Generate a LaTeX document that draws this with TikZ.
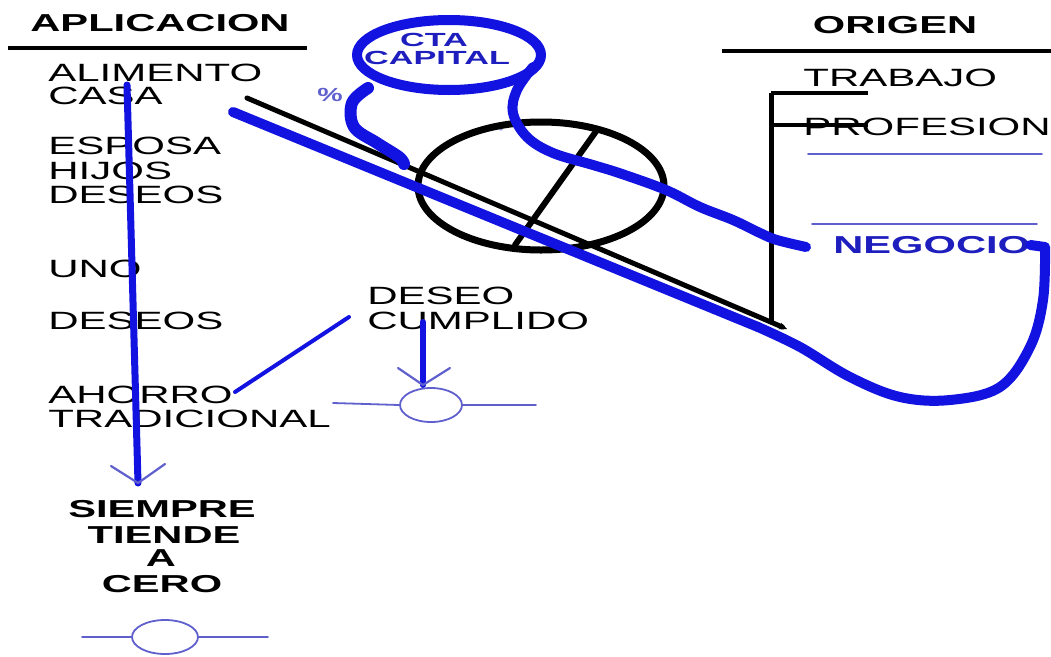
\documentclass[tikz,border=0pt]{standalone}
\usepackage{fontspec}
\setmainfont{Liberation Sans}
\usetikzlibrary{arrows.meta,calc,positioning,shapes.geometric}
\definecolor{penblue}{RGB}{18,18,225}
\definecolor{thinblue}{RGB}{95,95,205}
\definecolor{textblue}{RGB}{30,30,190}

\begin{document}
\begin{tikzpicture}[x=1pt,y=-1pt,>=Stealth,line cap=round,line join=round,
  word/.style={anchor=west,inner sep=0pt,xscale=1.68,font=\fontsize{25}{25}\selectfont},
  head/.style={inner sep=0pt,xscale=1.70,font=\fontsize{24.5}{24.5}\selectfont\bfseries},
  pen/.style={penblue,line width=10pt},
  thin/.style={thinblue,line width=1.8pt},
  ink/.style={black,line width=5pt}]
\useasboundingbox (0,0) rectangle (1051,656);
% headers
\node[head] (aplic) at (160,23) {APLICACION};
\node[head] (origen) at (895,25) {ORIGEN};
\draw[black,line width=4pt,line cap=butt] (8,48) -- (307,48);
\draw[black,line width=4pt,line cap=butt] (722,51) -- (1051,51);
% left column
\node[word] (alimento) at (48,73) {ALIMENTO};
\node[word] (casa) at (48,96) {CASA};
\node[word] (esposa) at (48,146) {ESPOSA};
\node[word] (hijos) at (48,171) {HIJOS};
\node[word] (deseos) at (48,195) {DESEOS};
\node[word] (uno) at (48,269) {UNO};
\node[word] (deseosb) at (48,321) {DESEOS};
\node[word] (ahorro) at (48,395) {AHORRO};
\node[word] (tradic) at (48,419) {TRADICIONAL};
\node[head] (siempre) at (162,509) {SIEMPRE};
\node[head] (tiende) at (164,535) {TIENDE};
\node[head] (a) at (161,558) {A};
\node[head] (cero) at (162,584) {CERO};
% right column
\node[word] (trabajo) at (803,78) {TRABAJO};
\node[word] (profesion) at (803,127) {PROFESION};
\node[head,anchor=west,textblue] (negocio) at (833,245) {NEGOCIO};
\draw[thin] (808,154) -- (1042,154);
\draw[thin] (812,224) -- (1037,224);
% middle
\node[word] (deseo) at (367,296) {DESEO};
\node[word] (cumplido) at (367,321) {CUMPLIDO};
\node[head,xscale=1.06,font=\fontsize{19}{19}\selectfont\bfseries,textblue] (cta) at (434,40) {CTA};
\node[head,xscale=1.06,font=\fontsize{19}{19}\selectfont\bfseries,textblue] (capital) at (437,58) {CAPITAL};
\node[inner sep=0pt,font=\fontsize{19}{19}\selectfont\bfseries,thinblue,xscale=1.5] (pct) at (330,95) {\%};
\node[inner sep=0pt,font=\fontsize{12}{12}\selectfont,thinblue] (minus) at (501,132) {-};
% wheel and ramp
\draw[black,line width=7pt] (541,186) ellipse [x radius=123, y radius=64];
\draw[black,line width=6pt] (597,130) -- (515,245);
\coordinate (rampTop) at (247,98);
\coordinate (rampEnd) at (787,329);
\draw[ink,-{Stealth[length=8pt,width=7pt]}] (rampTop) -- (rampEnd);
\draw[ink,line cap=butt] (771,93) -- (771,324);
\draw[ink,line width=4pt,line cap=butt] (771,93) -- (868,93);
\draw[ink,line width=4pt,line cap=butt] (771,125) -- (868,125);
% blue strokes
\draw[pen,line width=10pt] (449,55) ellipse [x radius=92, y radius=35];
\draw[pen,line width=12pt] plot[smooth,tension=0.6] coordinates {(368,88) (352,103) (354,127) (377,143) (399,157) (404,164)};
\draw[pen] plot[smooth,tension=0.6] coordinates {(533,67) (517,90) (513,113) (527,137) (553,153) (593,165) (622,174) (666,190) (700,207) (733,220) (760,233) (777,240) (806,247)};
\draw[pen] (233,112) -- (758,327);
\draw[pen] plot[smooth,tension=0.6] coordinates {(758,327) (800,347) (850,377) (900,397) (950,400) (1000,387) (1030,347) (1043,300) (1045,247)} -- (negocio.east);
% arrows down
\coordinate (colTop) at (127,85);
\coordinate (colTip) at (138,483);
\draw[pen,line width=7pt] (colTop) -- (colTip);
\draw[thin,line width=2.2pt] (111,466) -- (colTip) -- (165,464);
\coordinate (wishTop) at (423,322);
\coordinate (wishTip) at (423,385);
\draw[pen,line width=6pt] (wishTop) -- (wishTip);
\draw[thin,line width=2.2pt] (398,368) -- (wishTip) -- (450,368);
\draw[pen,line width=4pt] (ahorro.east) ++(2,-3) -- (349,317);
% zero marks
\node[draw=thinblue,line width=1.8pt,ellipse,minimum width=62pt,minimum height=34pt,inner sep=0pt] (goal) at (431,405) {};
\draw[thin] (333,403) -- (goal.west);
\draw[thin] (goal.east) -- (536,405);
\node[draw=thinblue,line width=1.8pt,ellipse,minimum width=66pt,minimum height=34pt,inner sep=0pt] (zero) at (165,637) {};
\draw[thin] (82,637) -- (zero.west);
\draw[thin] (zero.east) -- (268,637);
\end{tikzpicture}
\end{document}
